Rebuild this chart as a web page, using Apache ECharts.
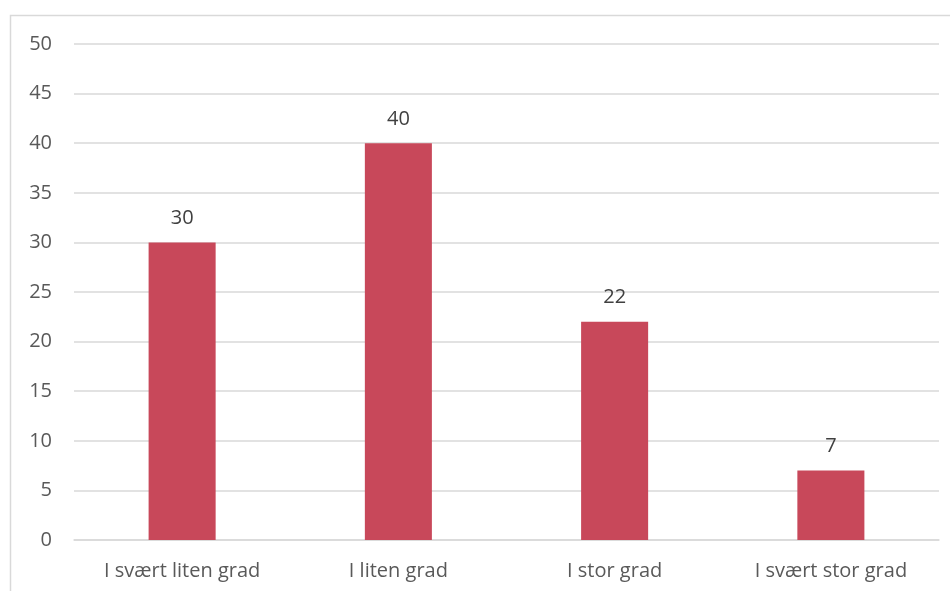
<!DOCTYPE html>
<html><head><meta charset="utf-8">
<script src="https://cdn.jsdelivr.net/npm/echarts@6/dist/echarts.min.js"></script>
<style>html,body{margin:0;padding:0;background:#fff}#c{width:950px;height:591px}</style>
</head><body><div id="c"></div>
<script>
const categories = ["I svært liten grad", "I liten grad", "I stor grad", "I svært stor grad"];
const values = [30, 40, 22, 7];
const yTicks = [0, 5, 10, 15, 20, 25, 30, 35, 40, 45, 50];
const font = "'Open Sans', 'Noto Sans', sans-serif";
const chart = echarts.init(document.getElementById('c'), null, {renderer: 'canvas'});
chart.setOption({
  animation: false,
  graphic: [{type: 'rect', shape: {x: 10.5, y: 15.5, width: 960, height: 600}, style: {fill: 'none', stroke: '#d9d9d9', lineWidth: 1.5}, z: -1}],
  grid: {left: 74, right: 11, top: 44, bottom: 51, containLabel: false},
  xAxis: {
    type: 'category', data: categories,
    axisLine: {show: true, lineStyle: {color: '#d9d9d9', width: 1.5}},
    axisTick: {show: false},
    axisLabel: {color: '#595959', fontSize: 20, fontFamily: font, margin: 21}
  },
  yAxis: {
    type: 'value', min: yTicks[0], max: yTicks[yTicks.length - 1], interval: 5,
    axisLine: {show: false}, axisTick: {show: false},
    splitLine: {lineStyle: {color: '#d9d9d9', width: 1.5}},
    axisLabel: {color: '#595959', fontSize: 20, fontFamily: font, margin: 22}
  },
  series: [{
    type: 'bar', data: values, barWidth: '31%',
    itemStyle: {color: '#C8485A'},
    label: {show: true, position: 'top', distance: 14, color: '#404040', fontSize: 20, fontFamily: font}
  }]
});
</script></body></html>
